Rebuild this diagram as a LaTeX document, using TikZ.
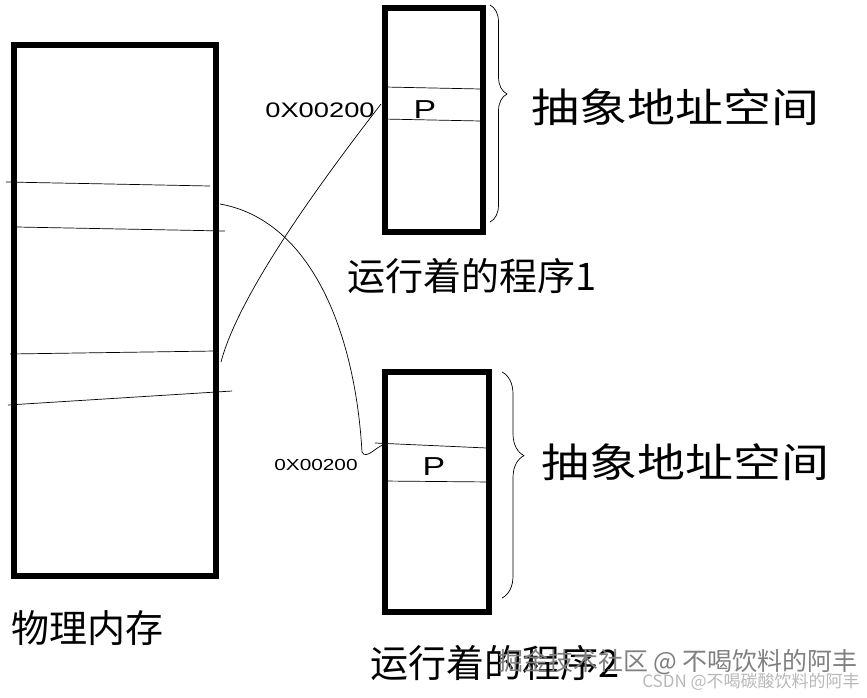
\documentclass[tikz,border=0pt]{standalone}
\usepackage{fontspec}
\usepackage{tikz}
\usetikzlibrary{positioning,decorations.pathreplacing}
\newfontfamily\cjk{Noto Sans CJK SC}
\newfontfamily\cjkwide[FakeStretch=1.2]{Noto Sans CJK SC}
\newfontfamily\scrawl[FakeStretch=1.3]{Liberation Sans}

\begin{document}
\begin{tikzpicture}[
  x=1pt, y=-1pt,
  frame/.style={draw, line width=6pt, inner sep=0pt},
  cut/.style={line width=0.7pt},
  wire/.style={line width=0.7pt},
  curly/.style 2 args={line width=0.7pt, decorate, decoration={brace, amplitude=#1, aspect=#2}},
  title/.style={font=\cjk\fontsize{38}{40}\selectfont, inner sep=0pt},
  note/.style={font=\cjkwide\fontsize{40}{42}\selectfont, inner sep=0pt},
  addr/.style={font=\scrawl\fontsize{21}{21}\selectfont, inner sep=0pt}
]
\useasboundingbox (0,0) rectangle (867,697);
\node[frame, minimum width=202pt, minimum height=531pt] (phys) at (115,310) {};
\node[frame, minimum width=98pt, minimum height=224pt] (prog1) at (434,120) {};
\node[frame, minimum width=104pt, minimum height=240pt] (prog2) at (437,492) {};
\node[title, below=32pt of phys, xshift=-27pt] (t0) {物理内存};
\node[title, below=23pt of prog1, xshift=38pt] (t1) {运行着的程序1};
\node[title, below=30pt of prog2, xshift=58pt] (t2) {运行着的程序2};

\draw[cut] (6,182) -- (110,184) -- (210,186);
\draw[cut] (17,227) -- (225,231);
\draw[cut] (10,354) -- (215,351);
\draw[cut] (8,405) -- (232,391);
\draw[cut] (385,87) -- (481,89);
\draw[cut] (383,119) -- (481,121);
\draw[cut] (375,443) -- (487,448);
\draw[cut] (383,481) -- (492,482);

\node[addr, font=\scrawl\fontsize{26}{26}\selectfont] (p1) at (425,110) {P};
\node[addr, font=\scrawl\fontsize{26}{26}\selectfont] (p2) at (434,467) {P};
\node[addr] (a1) at (320,110) {0X00200};
\node[addr, font=\scrawl\fontsize{16}{16}\selectfont] (a2) at (316,465) {0X00200};

\coordinate (m1) at (220,204);
\coordinate (m3) at (221,362);
\coordinate (s1) at (381,104);
\coordinate (s2) at (383,445);
\draw[wire] (m1) .. controls (310,220) and (355,330) .. (362,452) .. controls (366,460) and (376,447) .. (s2);
\draw[wire] (s1) .. controls (330,170) and (240,290) .. (m3);

\draw[curly={17pt}{0.41}] (490,5) -- (490,222);
\draw[curly={22pt}{0.37}] (502,372) -- (502,598);
\node[note] (v1) at (675,107) {抽象地址空间};
\node[note] (v2) at (685,462) {抽象地址空间};

\node[font=\cjk\fontsize{25}{25}\selectfont, text=black!50, inner sep=0pt] (wm1) at (678,662) {掘金技术社区 @ 不喝饮料的阿丰};
\node[font=\cjk\fontsize{17}{17}\selectfont, text=black!28, inner sep=0pt] (wm2) at (751,682) {CSDN @不喝碳酸饮料的阿丰};
\end{tikzpicture}
\end{document}
